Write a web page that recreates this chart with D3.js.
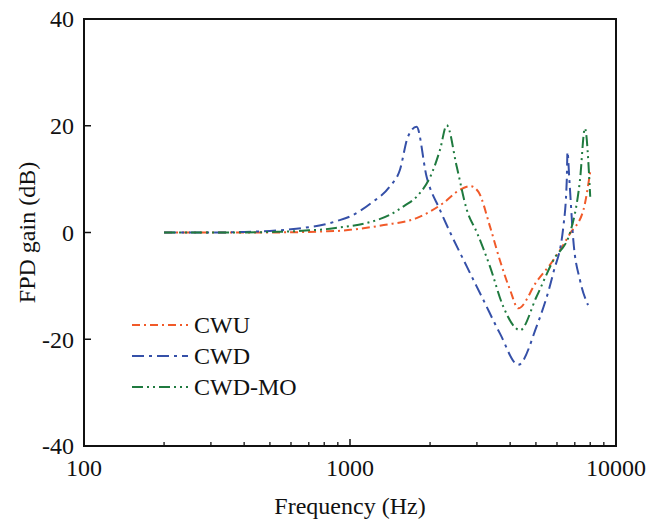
<!DOCTYPE html>
<html>
<head>
<meta charset="utf-8">
<script src="https://cdn.jsdelivr.net/npm/d3@7"></script>
<style>
  body { margin: 0; background: #fff; }
  text { font-family: "Liberation Serif", "Times New Roman", serif; fill: #111; }
</style>
</head>
<body>
<div class="svg-container"></div>
<script>
// data (frequency in Hz, gain in dB)
const cwuFreq = [200, 300, 400, 500, 600, 700, 800, 900, 1000, 1340, 1780, 2240, 2590, 2830, 3040, 3360, 3660, 4000, 4290, 5030, 5810, 6720, 7540, 8000];
const cwuGain = [0, 0, 0, 0, 0.05, 0.1, 0.2, 0.3, 0.5, 1.4, 2.7, 5.5, 8.0, 8.7, 7.6, 1.1, -5.2, -10.8, -14.2, -9.2, -5.2, -0.2, 4.2, 11.4];

const cwdFreq = [200, 300, 400, 500, 600, 700, 800, 900, 1000, 1200, 1410, 1540, 1650, 1780, 1940, 2180, 2380, 2750, 3170, 3660, 4290, 5030, 5810, 6340, 6530, 6570, 6680, 6910, 7320, 7850];
const cwdGain = [0, 0, 0.1, 0.3, 0.6, 1.0, 1.5, 2.2, 3.0, 5.5, 8.6, 11.7, 17.9, 19.8, 10.5, 4.2, 0, -6.4, -12.6, -18.9, -24.8, -17.6, -7.6, 1.1, 9.8, 15.1, 9.8, -1.4, -8.9, -13.6];

const moFreq = [200, 300, 400, 500, 600, 700, 800, 900, 1000, 1200, 1410, 1600, 1780, 2030, 2180, 2310, 2520, 2750, 3000, 3360, 3770, 4360, 5030, 5810, 6720, 7320, 7640, 8000];
const moGain = [0, 0, 0, 0.1, 0.2, 0.4, 0.6, 0.9, 1.2, 2.0, 3.3, 5.0, 6.7, 11.1, 15.5, 20.1, 12.3, 4.2, 0, -6.4, -13.9, -18.3, -12.0, -5.2, 0, 9.8, 19.5, 6.7];

const seriesNames = ["CWU", "CWD", "CWD-MO"];
const seriesColors = ["#f15a29", "#3550a8", "#1f7a3f"];
const seriesDash = ["8,4,2,4", "12,5,3,5", "11,4,2,4,2,4"];

const xTicks = [100, 1000, 10000];
const yTicks = [-40, -20, 0, 20, 40];

const margin = {top: 19, right: 46, bottom: 78, left: 84};
const width = 662 - margin.left - margin.right;
const height = 524 - margin.top - margin.bottom;

const svg = d3.select('.svg-container')
    .append('svg')
    .attr('width', 662)
    .attr('height', 524);

const g = svg.append('g')
    .attr('transform', `translate(${margin.left}, ${margin.top})`);

const x = d3.scaleLog().domain([100, 10000]).range([0, width]);
const y = d3.scaleLinear().domain([-40, 40]).range([height, 0]);

// minor ticks on the log axis
const minorX = [];
[100, 1000].forEach(function(dec) {
  for (let k = 2; k <= 9; k++) minorX.push(dec * k);
});

g.selectAll(".minor")
  .data(minorX)
  .enter().append("line")
    .attr("x1", d => x(d)).attr("x2", d => x(d))
    .attr("y1", height).attr("y2", height - 4)
    .attr("stroke", "#111").attr("stroke-width", 1.3);

g.selectAll(".xmajor")
  .data(xTicks)
  .enter().append("line")
    .attr("x1", d => x(d)).attr("x2", d => x(d))
    .attr("y1", height).attr("y2", height - 7)
    .attr("stroke", "#111").attr("stroke-width", 1.5);

g.selectAll(".ymajor")
  .data(yTicks)
  .enter().append("line")
    .attr("x1", 0).attr("x2", 7)
    .attr("y1", d => y(d)).attr("y2", d => y(d))
    .attr("stroke", "#111").attr("stroke-width", 1.5);

// tick labels
g.selectAll(".xlab")
  .data(xTicks)
  .enter().append("text")
    .attr("x", d => x(d))
    .attr("y", height + 30)
    .attr("text-anchor", "middle")
    .style("font-size", "24px")
    .text(d => d);

g.selectAll(".ylab")
  .data(yTicks)
  .enter().append("text")
    .attr("x", -10)
    .attr("y", d => y(d))
    .attr("dy", "0.35em")
    .attr("text-anchor", "end")
    .style("font-size", "24px")
    .text(d => d);

// curves
const series = [
  {freq: cwuFreq, gain: cwuGain},
  {freq: cwdFreq, gain: cwdGain},
  {freq: moFreq, gain: moGain}
];

const line = d3.line()
    .x(d => x(d[0]))
    .y(d => y(d[1]))
    .curve(d3.curveMonotoneX);

series.forEach(function(s, i) {
  g.append("path")
    .datum(d3.zip(s.freq, s.gain))
    .attr("fill", "none")
    .attr("stroke", seriesColors[i])
    .attr("stroke-width", 2)
    .attr("stroke-dasharray", seriesDash[i])
    .attr("d", line);
});

// frame
g.append("rect")
    .attr("width", width).attr("height", height)
    .attr("fill", "none")
    .attr("stroke", "#111")
    .attr("stroke-width", 2);

// legend
const legend = g.selectAll(".legend")
  .data(seriesNames)
  .enter().append("g")
    .attr("transform", (d, i) => "translate(48," + (306 + i * 31) + ")");

legend.append("line")
    .attr("x1", 0).attr("x2", 56)
    .attr("stroke", (d, i) => seriesColors[i])
    .attr("stroke-width", 2)
    .attr("stroke-dasharray", (d, i) => seriesDash[i]);

legend.append("text")
    .attr("x", 62)
    .attr("dy", "0.35em")
    .style("font-size", "24px")
    .text(d => d);

// axis titles
svg.append("text")
    .attr("x", margin.left + width / 2)
    .attr("y", 514)
    .attr("text-anchor", "middle")
    .style("font-size", "24px")
    .text("Frequency (Hz)");

svg.append("text")
    .attr("transform", "translate(35," + (margin.top + height / 2) + ") rotate(-90)")
    .attr("text-anchor", "middle")
    .style("font-size", "24px")
    .text("FPD gain (dB)");
</script>
</body>
</html>
